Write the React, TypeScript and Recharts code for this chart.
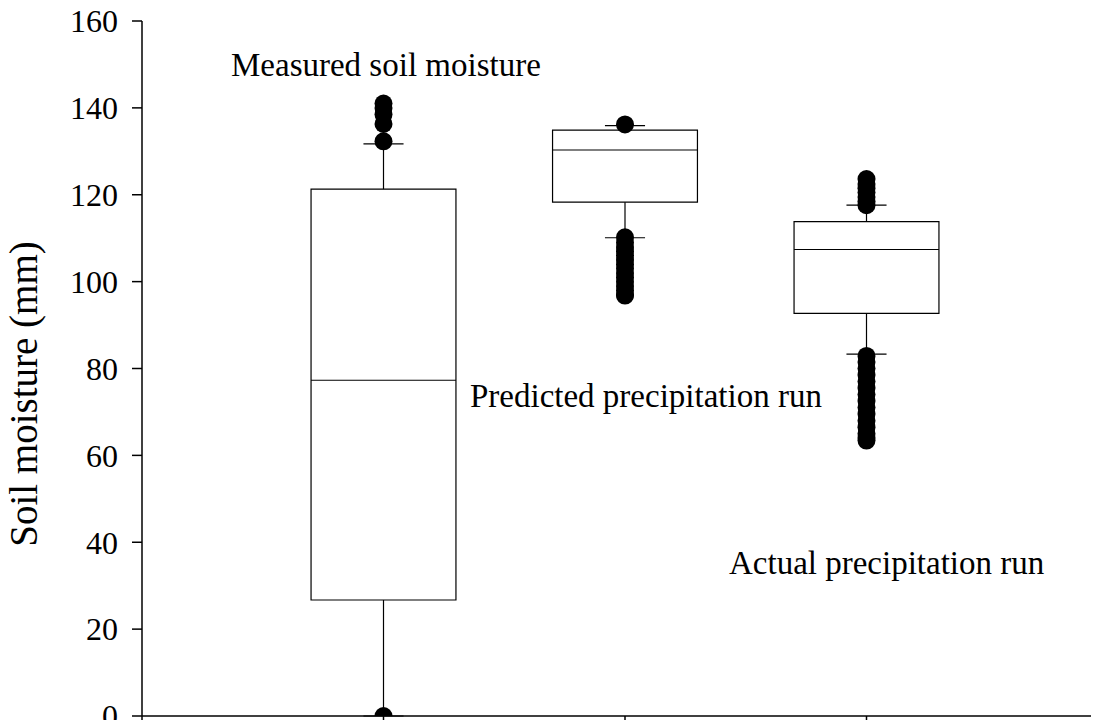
import React from 'react';
import {
  ComposedChart,
  XAxis,
  YAxis,
  Scatter,
  ReferenceArea,
  ReferenceLine,
  Customized,
} from 'recharts';

// ---- data ----
const categories = ['Measured soil moisture', 'Predicted precipitation run', 'Actual precipitation run'];
const positions = [1, 2, 3];
const q1 = [26.7, 118.3, 92.7];
const median = [77.3, 130.3, 107.4];
const q3 = [121.3, 134.9, 113.8];
const whiskerLow = [0, 110.1, 83.3];
const whiskerHigh = [131.7, 135.9, 117.6];
const outliersMeasured = [0, 132.3, 136.3, 138.5, 140, 141];
const outliersPredicted = [136.2, 110.2, 109, 108, 107, 106, 105, 104, 103, 102, 101, 100, 99, 98, 97, 96.8];
const outliersActual = [
  123.6, 122.5, 121.5, 120.5, 119.5, 118.5, 117.6,
  82.9, 81.5, 80, 78.5, 77, 75.5, 74, 72.5, 71, 69.5, 68, 66.5, 65, 64, 63.4,
];
const yTicks = [0, 20, 40, 60, 80, 100, 120, 140, 160];
const xTicks = [0, 1, 2, 3];

const outlierSets = [outliersMeasured, outliersPredicted, outliersActual];
const scatterData = outlierSets.flatMap((set, i) => set.map((v) => ({ x: positions[i], y: v })));

const FONT = "'Liberation Serif', 'Times New Roman', serif";
const BOX_HALF = 0.3;
const CAP_HALF = 0.083;

const Dot = (p: any) => <circle cx={p.cx} cy={p.cy} r={9} fill="#000" />;

const Annotations = () => (
  <g fontFamily={FONT} fontSize={33} fill="#000">
    <text x={231} y={76}>{categories[0]}</text>
    <text x={470} y={407}>{categories[1]}</text>
    <text x={729} y={574}>{categories[2]}</text>
  </g>
);

export default function App() {
  return (
    <div style={{ margin: -8, width: 1099, height: 728, overflow: 'hidden', background: '#fff' }}>
      <ComposedChart width={1110} height={728} margin={{ top: 21, right: 2, bottom: 0, left: 0 }}>
        <XAxis
          xAxisId="top"
          orientation="top"
          type="number"
          domain={[0, 4]}
          height={0}
          tick={false}
          tickLine={false}
          axisLine={{ stroke: '#000', strokeWidth: 1.5 }}
        />
        <XAxis
          type="number"
          dataKey="x"
          domain={[0, 4]}
          ticks={xTicks}
          interval={0}
          height={12}
          tickFormatter={() => ''}
          tickSize={11}
          tickLine={{ stroke: '#000', strokeWidth: 1.5 }}
          axisLine={{ stroke: '#000', strokeWidth: 1.5 }}
          allowDataOverflow
        />
        <YAxis
          type="number"
          dataKey="y"
          domain={[0, 160]}
          ticks={yTicks}
          interval={0}
          width={142}
          tickSize={10}
          tickMargin={14}
          tick={{ fill: '#000', fontSize: 32, fontFamily: FONT }}
          tickLine={{ stroke: '#000', strokeWidth: 1.5 }}
          axisLine={{ stroke: '#000', strokeWidth: 1.5 }}
          allowDataOverflow
          label={{
            content: () => (
              <text
                x={37}
                y={394}
                transform="rotate(-90, 37, 394)"
                textAnchor="middle"
                fontFamily={FONT}
                fontSize={39}
                fill="#000"
              >
                Soil moisture (mm)
              </text>
            ),
          }}
        />
        {positions.map((c, i) => (
          <ReferenceArea
            key={`box-${i}`}
            x1={c - BOX_HALF}
            x2={c + BOX_HALF}
            y1={q1[i]}
            y2={q3[i]}
            fill="none"
            fillOpacity={0}
            stroke="#000"
            strokeWidth={1.2}
            ifOverflow="visible"
          />
        ))}
        {positions.map((c, i) => (
          <ReferenceLine
            key={`med-${i}`}
            segment={[{ x: c - BOX_HALF, y: median[i] }, { x: c + BOX_HALF, y: median[i] }]}
            stroke="#000"
            strokeWidth={1.2}
            ifOverflow="visible"
          />
        ))}
        {positions.map((c, i) => (
          <ReferenceLine
            key={`wu-${i}`}
            segment={[{ x: c, y: q3[i] }, { x: c, y: whiskerHigh[i] }]}
            stroke="#000"
            strokeWidth={1.2}
            ifOverflow="visible"
          />
        ))}
        {positions.map((c, i) => (
          <ReferenceLine
            key={`wl-${i}`}
            segment={[{ x: c, y: q1[i] }, { x: c, y: whiskerLow[i] }]}
            stroke="#000"
            strokeWidth={1.2}
            ifOverflow="visible"
          />
        ))}
        {positions.map((c, i) => (
          <ReferenceLine
            key={`cu-${i}`}
            segment={[{ x: c - CAP_HALF, y: whiskerHigh[i] }, { x: c + CAP_HALF, y: whiskerHigh[i] }]}
            stroke="#000"
            strokeWidth={1.2}
            ifOverflow="visible"
          />
        ))}
        {positions.map((c, i) => (
          <ReferenceLine
            key={`cl-${i}`}
            segment={[{ x: c - CAP_HALF, y: whiskerLow[i] }, { x: c + CAP_HALF, y: whiskerLow[i] }]}
            stroke="#000"
            strokeWidth={1.2}
            ifOverflow="visible"
          />
        ))}
        <Scatter data={scatterData} dataKey="y" shape={Dot} isAnimationActive={false} />
        <Customized component={Annotations} />
      </ComposedChart>
    </div>
  );
}
